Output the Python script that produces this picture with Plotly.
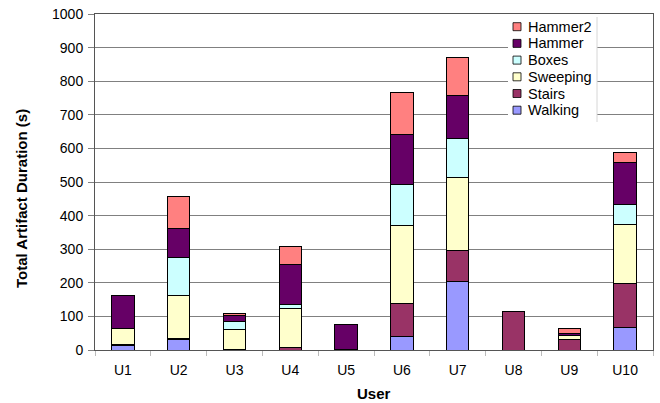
import plotly.graph_objects as go

users = ["U1", "U2", "U3", "U4", "U5", "U6", "U7", "U8", "U9", "U10"]

walking  = [12, 30, 0, 0, 0, 41, 203, 0, 0, 66]
stairs   = [5, 4, 2, 8, 2, 96, 92, 116, 30, 132]
sweeping = [46, 128, 58, 116, 0, 234, 219, 0, 14, 176]
boxes    = [0, 113, 24, 10, 0, 122, 115, 0, 0, 60]
hammer   = [100, 86, 20, 121, 75, 147, 129, 0, 4, 124]
hammer2  = [0, 97, 4, 54, 0, 127, 113, 0, 16, 30]

series = [
    ("Walking", walking, "#9999FF"),
    ("Stairs", stairs, "#993366"),
    ("Sweeping", sweeping, "#FFFFCC"),
    ("Boxes", boxes, "#CCFFFF"),
    ("Hammer", hammer, "#660066"),
    ("Hammer2", hammer2, "#FF8080"),
]

W, H = 660, 403
ML, MR, MT, MB = 95, 7, 14, 53
PW, PH = W - ML - MR, H - MT - MB


def px(x):
    # pixel column -> paper x
    return (x - ML) / PW


def py(y):
    # pixel row -> paper y
    return (H - MB - y) / PH


font = "Liberation Sans, Arial, sans-serif"

fig = go.Figure()
for name, vals, color in series:
    fig.add_trace(go.Bar(
        x=users, y=vals, name=name, showlegend=False,
        marker=dict(color=color, line=dict(color="#000000", width=1)),
    ))

shapes = []
annotations = []

# legend panel, drawn over the gridlines
shapes.append(dict(type="rect", xref="paper", yref="paper",
                   x0=px(508), x1=px(597), y0=py(122), y1=py(17),
                   fillcolor="white", line=dict(width=0), layer="above"))
shapes.append(dict(type="line", xref="paper", yref="paper",
                   x0=px(597), x1=px(597), y0=py(122), y1=py(17),
                   line=dict(color="#d6d6d6", width=1), layer="above"))

row0, step = 26.7, 16.7
for i, (name, _, color) in enumerate(reversed(series)):
    cy = row0 + i * step
    shapes.append(dict(type="rect", xref="paper", yref="paper",
                       x0=px(513), x1=px(521), y0=py(cy + 4), y1=py(cy - 4),
                       fillcolor=color, line=dict(color="#000000", width=0.8),
                       layer="above"))
    annotations.append(dict(text=name, xref="paper", yref="paper",
                            x=px(526), y=py(cy), xanchor="left", yanchor="middle",
                            showarrow=False, font=dict(family=font, size=14.5, color="#000")))

# axis titles
annotations.append(dict(text="<b>Total Artifact Duration (s)</b>", xref="paper", yref="paper",
                        x=px(21), y=py(199), xanchor="center", yanchor="middle",
                        textangle=-90, showarrow=False,
                        font=dict(family=font, size=15, color="#000")))
annotations.append(dict(text="<b>User</b>", xref="paper", yref="paper",
                        x=0.5, y=py(393), xanchor="center", yanchor="middle",
                        showarrow=False, font=dict(family=font, size=15, color="#000")))

fig.update_layout(
    barmode="stack",
    bargap=0.6,
    width=W, height=H,
    margin=dict(l=ML, r=MR, t=MT, b=MB),
    paper_bgcolor="white",
    plot_bgcolor="white",
    font=dict(family=font, size=14, color="#000000"),
    showlegend=False,
    shapes=shapes,
    annotations=annotations,
    xaxis=dict(
        showline=True, linecolor="#555555", linewidth=1,
        ticks="outside", tickson="boundaries", ticklen=5, tickcolor="#bbbbbb",
        ticklabelstandoff=7,
        tickfont=dict(size=14),
        mirror=True,
    ),
    yaxis=dict(
        range=[0, 1000], dtick=100,
        showline=True, linecolor="#555555", linewidth=1,
        showgrid=True, gridcolor="#808080", gridwidth=1,
        ticks="outside", ticklen=6, tickcolor="#808080",
        ticklabelstandoff=2,
        tickfont=dict(size=14),
        mirror=True,
    ),
)

fig.write_html("out.html")
